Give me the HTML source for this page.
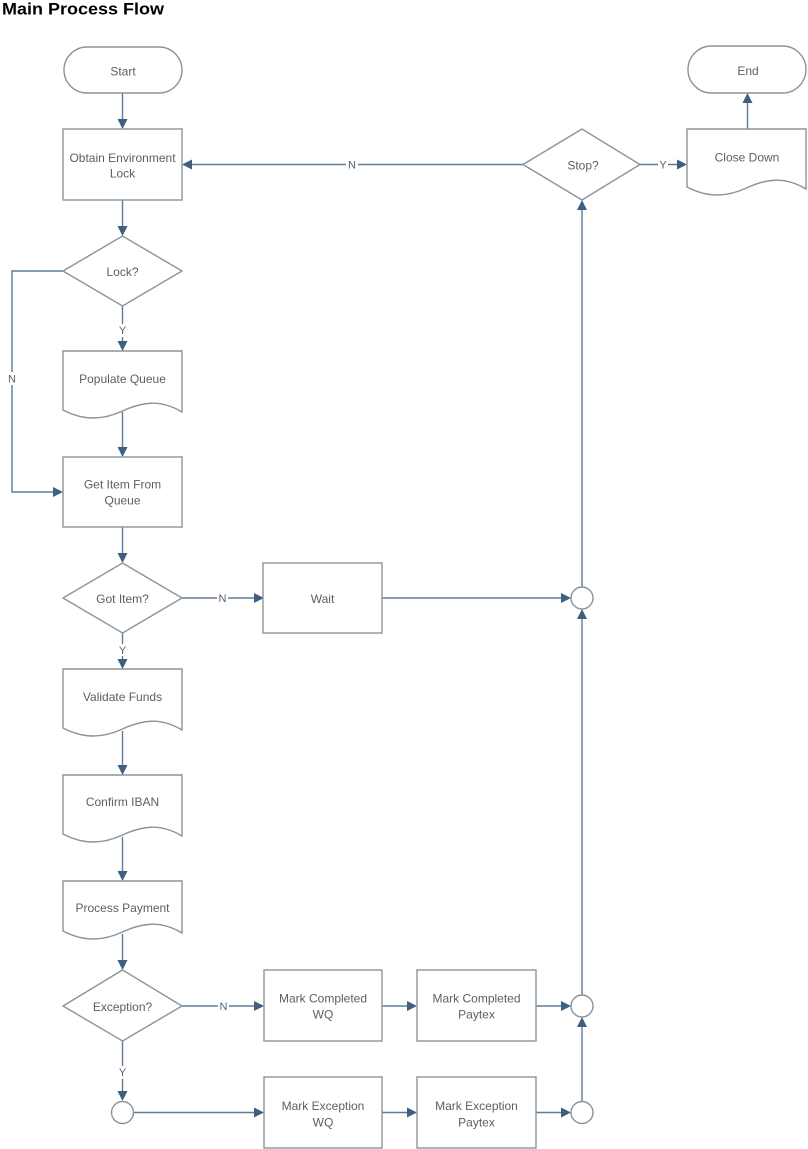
<!DOCTYPE html>
<html>
<head>
<meta charset="utf-8">
<style>
  html,body{margin:0;padding:0;background:#fff;}
  svg{display:block;}
  .s{fill:#fff;stroke:#8a939c;stroke-width:1.4;}
  .c{fill:none;stroke:#5d7b98;stroke-width:1.4;}
  .a{fill:#3f5f80;stroke:none;}
  .t{font-family:"Liberation Sans",Arial,sans-serif;font-size:12px;fill:#5a5f66;text-anchor:middle;dominant-baseline:central;}
  .l{font-family:"Liberation Sans",Arial,sans-serif;font-size:11px;fill:#5a5f66;text-anchor:middle;dominant-baseline:central;}
  .bg{fill:#fff;stroke:none;}
</style>
</head>
<body>
<svg width="808" height="1149" viewBox="0 0 808 1149" xmlns="http://www.w3.org/2000/svg">
  <!-- Title -->
  <text x="2" y="14.5" font-family="Liberation Sans, Arial, sans-serif" font-size="16.5" font-weight="bold" fill="#000" textLength="162" lengthAdjust="spacingAndGlyphs">Main Process Flow</text>

  <!-- ============ CONNECTORS ============ -->
  <line class="c" x1="122.5" y1="93" x2="122.5" y2="121"/>
  <polygon class="a" points="117.5,119 127.5,119 122.5,129"/>
  <line class="c" x1="122.5" y1="200" x2="122.5" y2="228"/>
  <polygon class="a" points="117.5,226 127.5,226 122.5,236"/>
  <polyline class="c" points="63,271 12,271 12,492 55,492"/>
  <polygon class="a" points="53,487 53,497 63,492"/>
  <rect class="bg" x="7" y="372" width="10" height="13"/>
  <text class="l" x="12" y="379.5">N</text>
  <line class="c" x1="122.5" y1="306" x2="122.5" y2="343"/>
  <polygon class="a" points="117.5,341 127.5,341 122.5,351"/>
  <rect class="bg" x="117" y="324" width="11" height="13"/>
  <text class="l" x="122.5" y="331">Y</text>
  <line class="c" x1="122.5" y1="412" x2="122.5" y2="449"/>
  <polygon class="a" points="117.5,447 127.5,447 122.5,457"/>
  <line class="c" x1="122.5" y1="527" x2="122.5" y2="555"/>
  <polygon class="a" points="117.5,553 127.5,553 122.5,563"/>
  <line class="c" x1="182" y1="598" x2="256" y2="598"/>
  <polygon class="a" points="254,593 254,603 264,598"/>
  <rect class="bg" x="217" y="592" width="11" height="13"/>
  <text class="l" x="222.5" y="599">N</text>
  <line class="c" x1="382" y1="598" x2="563" y2="598"/>
  <polygon class="a" points="561,593 561,603 571,598"/>
  <line class="c" x1="122.5" y1="633" x2="122.5" y2="661"/>
  <polygon class="a" points="117.5,659 127.5,659 122.5,669"/>
  <rect class="bg" x="117" y="644" width="11" height="12"/>
  <text class="l" x="122.5" y="651">Y</text>
  <line class="c" x1="122.5" y1="731" x2="122.5" y2="767"/>
  <polygon class="a" points="117.5,765 127.5,765 122.5,775"/>
  <line class="c" x1="122.5" y1="837" x2="122.5" y2="873"/>
  <polygon class="a" points="117.5,871 127.5,871 122.5,881"/>
  <line class="c" x1="122.5" y1="934" x2="122.5" y2="962"/>
  <polygon class="a" points="117.5,960 127.5,960 122.5,970"/>
  <line class="c" x1="182" y1="1006" x2="256" y2="1006"/>
  <polygon class="a" points="254,1001 254,1011 264,1006"/>
  <rect class="bg" x="218" y="1000" width="11" height="13"/>
  <text class="l" x="223.5" y="1007">N</text>
  <line class="c" x1="382" y1="1006" x2="409" y2="1006"/>
  <polygon class="a" points="407,1001 407,1011 417,1006"/>
  <line class="c" x1="536" y1="1006" x2="563" y2="1006"/>
  <polygon class="a" points="561,1001 561,1011 571,1006"/>
  <line class="c" x1="122.5" y1="1041" x2="122.5" y2="1093"/>
  <polygon class="a" points="117.5,1091 127.5,1091 122.5,1101"/>
  <rect class="bg" x="117" y="1066" width="11" height="13"/>
  <text class="l" x="122.5" y="1073">Y</text>
  <line class="c" x1="133.5" y1="1112.5" x2="256" y2="1112.5"/>
  <polygon class="a" points="254,1107.5 254,1117.5 264,1112.5"/>
  <line class="c" x1="382" y1="1112.5" x2="409" y2="1112.5"/>
  <polygon class="a" points="407,1107.5 407,1117.5 417,1112.5"/>
  <line class="c" x1="536" y1="1112.5" x2="563" y2="1112.5"/>
  <polygon class="a" points="561,1107.5 561,1117.5 571,1112.5"/>
  <line class="c" x1="582" y1="1101.5" x2="582" y2="1025"/>
  <polygon class="a" points="577,1027 587,1027 582,1017"/>
  <line class="c" x1="582" y1="995" x2="582" y2="617"/>
  <polygon class="a" points="577,619 587,619 582,609"/>
  <line class="c" x1="582" y1="587" x2="582" y2="208"/>
  <polygon class="a" points="577,210 587,210 582,200"/>
  <line class="c" x1="523" y1="164.5" x2="190" y2="164.5"/>
  <polygon class="a" points="192,159.5 192,169.5 182,164.5"/>
  <rect class="bg" x="346" y="158" width="12" height="13"/>
  <text class="l" x="352" y="165.5">N</text>
  <line class="c" x1="640" y1="164.5" x2="679" y2="164.5"/>
  <polygon class="a" points="677,159.5 677,169.5 687,164.5"/>
  <rect class="bg" x="658" y="158" width="10" height="13"/>
  <text class="l" x="663" y="165.5">Y</text>
  <line class="c" x1="747.5" y1="129" x2="747.5" y2="101"/>
  <polygon class="a" points="742.5,103 752.5,103 747.5,93"/>

  <!-- ============ SHAPES ============ -->
  <rect class="s" x="64" y="47" width="118" height="46" rx="23" ry="23"/>
  <polygon class="s" points="122.5,236 182,271 122.5,306 63,271"/>
  <rect class="s" x="63" y="129" width="119" height="71"/>
  <path class="s" d="M63,351 H182 V412 C160,399 142,402 122.5,411 C103,420 84,421 63,410 Z"/>
  <rect class="s" x="63" y="457" width="119" height="70"/>
  <polygon class="s" points="122.5,563 182,598 122.5,633 63,598"/>
  <rect class="s" x="263" y="563" width="119" height="70"/>
  <circle class="s" cx="582" cy="598" r="11"/>
  <path class="s" d="M63,669 H182 V730 C160,717 142,720 122.5,729 C103,738 84,739 63,728 Z"/>
  <path class="s" d="M63,775 H182 V836 C160,823 142,826 122.5,835 C103,844 84,845 63,834 Z"/>
  <path class="s" d="M63,881 H182 V933 C160,920 142,923 122.5,932 C103,941 84,942 63,931 Z"/>
  <polygon class="s" points="122.5,970 182,1006 122.5,1041 63,1006"/>
  <rect class="s" x="264" y="970" width="118" height="71"/>
  <rect class="s" x="417" y="970" width="119" height="71"/>
  <circle class="s" cx="582" cy="1006" r="11"/>
  <circle class="s" cx="122.5" cy="1112.5" r="11"/>
  <rect class="s" x="264" y="1077" width="118" height="71"/>
  <rect class="s" x="417" y="1077" width="119" height="71"/>
  <circle class="s" cx="582" cy="1112.5" r="11"/>
  <polygon class="s" points="582,129 640,164.5 582,200 523,164.5"/>
  <path class="s" d="M687,129 H806 V189 C784,176 766,179 746.5,188 C727,197 708,198 687,187 Z"/>
  <rect class="s" x="688" y="46" width="118" height="47" rx="23.5" ry="23.5"/>

  <!-- ============ LABELS ============ -->
  <g transform="translate(0,1)">
    <text class="t" x="123" y="70.5">Start</text>
    <text class="t" x="122.5" y="157">Obtain Environment</text>
    <text class="t" x="122.5" y="172.5">Lock</text>
    <text class="t" x="122.5" y="271">Lock?</text>
    <text class="t" x="122.5" y="378">Populate Queue</text>
    <text class="t" x="122.5" y="483.5">Get Item From</text>
    <text class="t" x="122.5" y="499.5">Queue</text>
    <text class="t" x="122.5" y="598">Got Item?</text>
    <text class="t" x="322.5" y="598">Wait</text>
    <text class="t" x="122.5" y="696">Validate Funds</text>
    <text class="t" x="122.5" y="801">Confirm IBAN</text>
    <text class="t" x="122.5" y="907">Process Payment</text>
    <text class="t" x="122.5" y="1006">Exception?</text>
    <text class="t" x="323" y="997.5">Mark Completed</text>
    <text class="t" x="323" y="1013.5">WQ</text>
    <text class="t" x="476.5" y="997.5">Mark Completed</text>
    <text class="t" x="476.5" y="1013.5">Paytex</text>
    <text class="t" x="323" y="1105">Mark Exception</text>
    <text class="t" x="323" y="1121.5">WQ</text>
    <text class="t" x="476.5" y="1105">Mark Exception</text>
    <text class="t" x="476.5" y="1121.5">Paytex</text>
    <text class="t" x="583" y="164.5">Stop?</text>
    <text class="t" x="747" y="156.5">Close Down</text>
    <text class="t" x="748" y="70">End</text>
  </g>
</svg>
</body>
</html>
